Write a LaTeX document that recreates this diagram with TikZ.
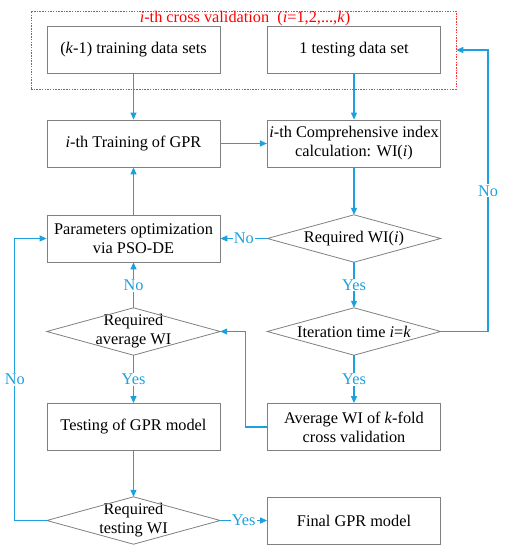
\documentclass[tikz,border=0pt]{standalone}
\usepackage{fontspec}
\setmainfont{Liberation Serif}
\usetikzlibrary{arrows.meta}
\usetikzlibrary{calc}

\definecolor{flowblue}{RGB}{28,160,222}
\definecolor{boxgray}{RGB}{128,128,128}

\begin{document}
\begin{tikzpicture}[x=1pt, y=-1pt,
    font=\fontsize{16.3pt}{19pt}\selectfont,
    process/.style={draw=boxgray, line width=0.8pt, minimum width=173pt, minimum height=47pt, inner sep=2pt, align=center},
    decision/.style={minimum width=173pt, minimum height=47pt, inner sep=0pt, align=center},
    flow/.style={flowblue, line width=1.2pt, -{Triangle[length=7pt, width=6pt]}},
    answer/.style={text=flowblue, fill=white, inner sep=1pt}]

    \useasboundingbox (0,0) rectangle (505,550);

    % cross validation frame
    \node[draw=red!80, dash pattern=on 1.5pt off 1.2pt, line width=0.5pt, minimum width=425pt, minimum height=78pt] (cv) at (243.5,50) {};
    \node[text=red] (cvtitle) at (245,19) {\textit{i}-th cross validation\ \ (\textit{i}=1,2,...,\textit{k})};

    \node[process] (train) at (133.5,49.5) {(\textit{k}-1) training data sets};
    \node[process] (test) at (354,49.5) {1 testing data set};
    \node[process] (gpr) at (133.5,143.5) {\textit{i}-th Training of GPR};
    \node[process] (wi) at (354,143.5) {\textit{i}-th Comprehensive index\\calculation: WI(\textit{i})};
    \node[process] (pso) at (133.5,238.5) {Parameters optimization\\via PSO-DE};
    \node[decision] (dWI) at (354,238.5) {Required WI(\textit{i})};
    \node[decision] (dAvg) at (133.5,331.5) {Required\\average WI};
    \node[decision] (dIter) at (354,331.5) {Iteration time \textit{i}=\textit{k}};
    \node[process] (tst) at (133.5,427) {Testing of GPR model};
    \node[process] (avg) at (354,427) {Average WI of \textit{k}-fold\\cross validation};
    \node[decision] (dTest) at (133.5,520.5) {Required\\testing WI};
    \node[process] (final) at (354,520.5) {Final GPR model};

    \foreach \d in {dWI, dAvg, dIter, dTest}
        \draw[boxgray, line width=0.8pt] (\d.north) -- (\d.east) -- (\d.south) -- (\d.west) -- cycle;

    \coordinate (back) at (488,50);

    \draw[flow] (train) -- (gpr);
    \draw[flow] (test) -- (wi);
    \draw[flow] (gpr) -- (wi);
    \draw[flow] (wi) -- (dWI.north);
    \draw[flow] (dWI.west) -- node[answer] {No} (pso.east);
    \draw[flow] (pso) -- (gpr);
    \draw[flow] (dWI.south) -- node[answer] {Yes} (dIter.north);
    \draw[flow] (dIter.east) -| node[answer, pos=0.75] {No} (back) -- (cv.east);
    \draw[flow] (dIter.south) -- node[answer] {Yes} (avg.north);
    \draw[flow] (avg.west) -- ++(-22,0) |- (dAvg.east);
    \draw[flow] (dAvg.north) -- node[answer] {No} (pso.south);
    \draw[flow] (dAvg.south) -- node[answer] {Yes} (tst.north);
    \draw[flow] (tst.south) -- (dTest.north);
    \draw[flow] (dTest.east) -- node[answer] {Yes} (final.west);
    \draw[flow] (dTest.west) -- ++(-32,0) |- node[answer, pos=0.25] {No} (pso.west);

\end{tikzpicture}
\end{document}
